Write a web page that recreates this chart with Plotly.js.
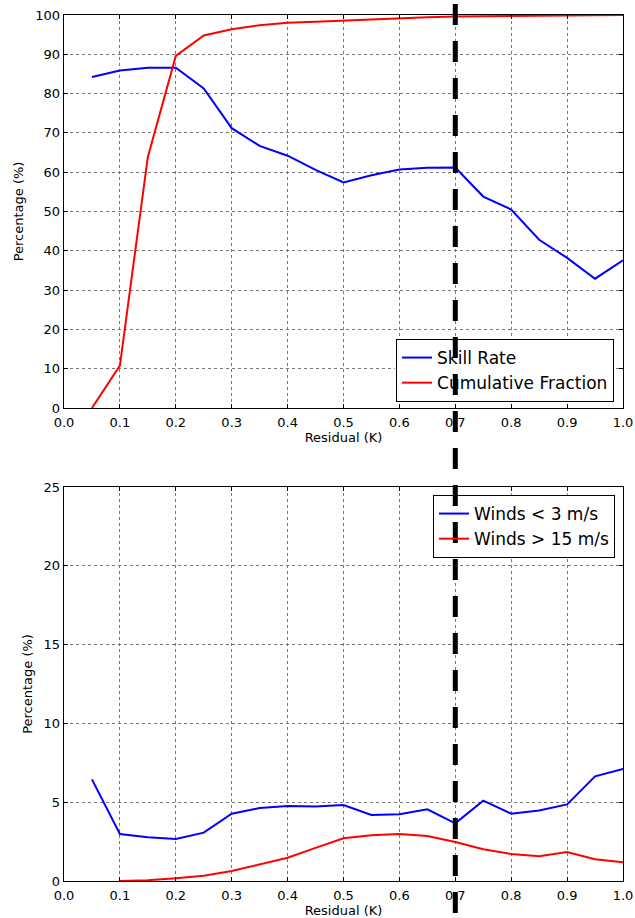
<!DOCTYPE html>
<html>
<head>
<meta charset="utf-8">
<script src="https://cdn.plot.ly/plotly-3.0.1.min.js"></script>
<style>html,body{margin:0;padding:0;background:#fff;}#chart{width:635px;height:918px;}</style>
</head>
<body>
<div id="chart"></div>
<script>
// Shared x values (Residual, K)
const residual = [0.05,0.10,0.15,0.20,0.25,0.30,0.35,0.40,0.45,0.50,0.55,0.60,0.65,0.70,0.75,0.80,0.85,0.90,0.95,1.00];

// Top panel
const skillRate = [84.2,85.9,86.6,86.6,81.3,71.2,66.7,64.2,60.6,57.4,59.2,60.7,61.1,61.2,53.8,50.5,42.8,38.2,32.9,37.6];
const cumulativeFraction = [0,10.8,63.9,89.6,94.8,96.4,97.4,98.0,98.3,98.6,98.9,99.2,99.4,99.6,99.7,99.8,99.85,99.9,99.95,100];

// Bottom panel
const windsLow = [6.45,2.98,2.77,2.66,3.07,4.27,4.63,4.76,4.72,4.82,4.19,4.23,4.55,3.66,5.10,4.27,4.48,4.86,6.64,7.11];
const windsHigh = [null,0,0.05,0.17,0.34,0.63,1.04,1.48,2.1,2.71,2.90,2.98,2.86,2.47,2.01,1.71,1.57,1.84,1.38,1.19];

const xTickVals = [0,0.1,0.2,0.3,0.4,0.5,0.6,0.7,0.8,0.9,1.0];
const xTickText = ['0.0','0.1','0.2','0.3','0.4','0.5','0.6','0.7','0.8','0.9','1.0'];
const threshold = 0.7;

const FONT = 'DejaVu Sans, sans-serif';

const traces = [
  {x: residual, y: skillRate, name: 'Skill Rate', mode: 'lines', line: {color: '#0000ff', width: 2}, xaxis: 'x', yaxis: 'y', legend: 'legend'},
  {x: residual, y: cumulativeFraction, name: 'Cumulative Fraction', mode: 'lines', line: {color: '#ff0000', width: 2}, xaxis: 'x', yaxis: 'y', legend: 'legend'},
  {x: residual, y: windsLow, name: 'Winds < 3 m/s', mode: 'lines', line: {color: '#0000ff', width: 2}, xaxis: 'x2', yaxis: 'y2', legend: 'legend2'},
  {x: residual, y: windsHigh, name: 'Winds > 15 m/s', mode: 'lines', line: {color: '#ff0000', width: 2}, xaxis: 'x2', yaxis: 'y2', legend: 'legend2', connectgaps: false}
];

function xAxis(anchor, standoff) {
  const title = {text: 'Residual (K)', font: {family: FONT, size: 13, color: '#000'}};
  if (standoff !== undefined) title.standoff = standoff;
  return {
    anchor: anchor, range: [0, 1], tickvals: xTickVals, ticktext: xTickText,
    showgrid: true, gridcolor: '#777', griddash: 'dot', gridwidth: 1,
    showline: true, linecolor: '#000', linewidth: 1.3, mirror: 'ticks',
    ticks: 'inside', ticklen: 4, tickcolor: '#000', zeroline: false,
    ticklabelstandoff: 2,
    tickfont: {family: FONT, size: 13, color: '#000'},
    title: title
  };
}
function yAxis(anchor, domain, range, dtick) {
  return {
    anchor: anchor, domain: domain, range: range, dtick: dtick, tick0: 0,
    showgrid: true, gridcolor: '#777', griddash: 'dot', gridwidth: 1,
    showline: true, linecolor: '#000', linewidth: 1.3, mirror: 'ticks',
    ticks: 'inside', ticklen: 4, tickcolor: '#000', zeroline: false,
    tickfont: {family: FONT, size: 13, color: '#000'},
    title: {text: 'Percentage (%)', font: {family: FONT, size: 13, color: '#000'}, standoff: 8}
  };
}

const layout = {
  width: 635, height: 918,
  margin: {l: 64, r: 12, t: 15, b: 37},
  paper_bgcolor: '#fff', plot_bgcolor: '#fff',
  font: {family: FONT, color: '#000'},
  showlegend: true,
  xaxis: xAxis('y', 4),
  yaxis: yAxis('x', [0.5462, 1], [0, 100], 10),
  xaxis2: xAxis('y2'),
  yaxis2: yAxis('x2', [0, 0.455], [0, 25], 5),
  legend: {
    x: 0.984, xanchor: 'right', y: 0.5531, yanchor: 'bottom',
    bgcolor: 'rgba(0,0,0,0)', bordercolor: '#000', borderwidth: 1,
    font: {family: FONT, size: 17, color: '#000'}, itemwidth: 30, tracegroupgap: 0
  },
  legend2: {
    x: 0.9857, xanchor: 'right', y: 0.4457, yanchor: 'top',
    bgcolor: 'rgba(0,0,0,0)', bordercolor: '#000', borderwidth: 1,
    font: {family: FONT, size: 17, color: '#000'}, itemwidth: 30, tracegroupgap: 0
  },
  shapes: [
    {type: 'rect', xref: 'x', yref: 'y', x0: 0.592, x1: 0.984, y0: 1.5, y1: 17.3,
     fillcolor: '#fff', line: {width: 0}, layer: 'between'},
    {type: 'rect', xref: 'x2', yref: 'y2', x0: 0.66, x1: 0.986, y0: 20.6, y1: 24.5,
     fillcolor: '#fff', line: {width: 0}, layer: 'between'},
    {type: 'line', xref: 'x', yref: 'paper', x0: threshold, x1: threshold, y0: 1.0127, y1: -0.0427,
     line: {color: '#000', width: 5, dash: '21px,16px'}, layer: 'above'}
  ]
};

Plotly.newPlot('chart', traces, layout, {displayModeBar: false, staticPlot: true});
</script>
</body>
</html>
